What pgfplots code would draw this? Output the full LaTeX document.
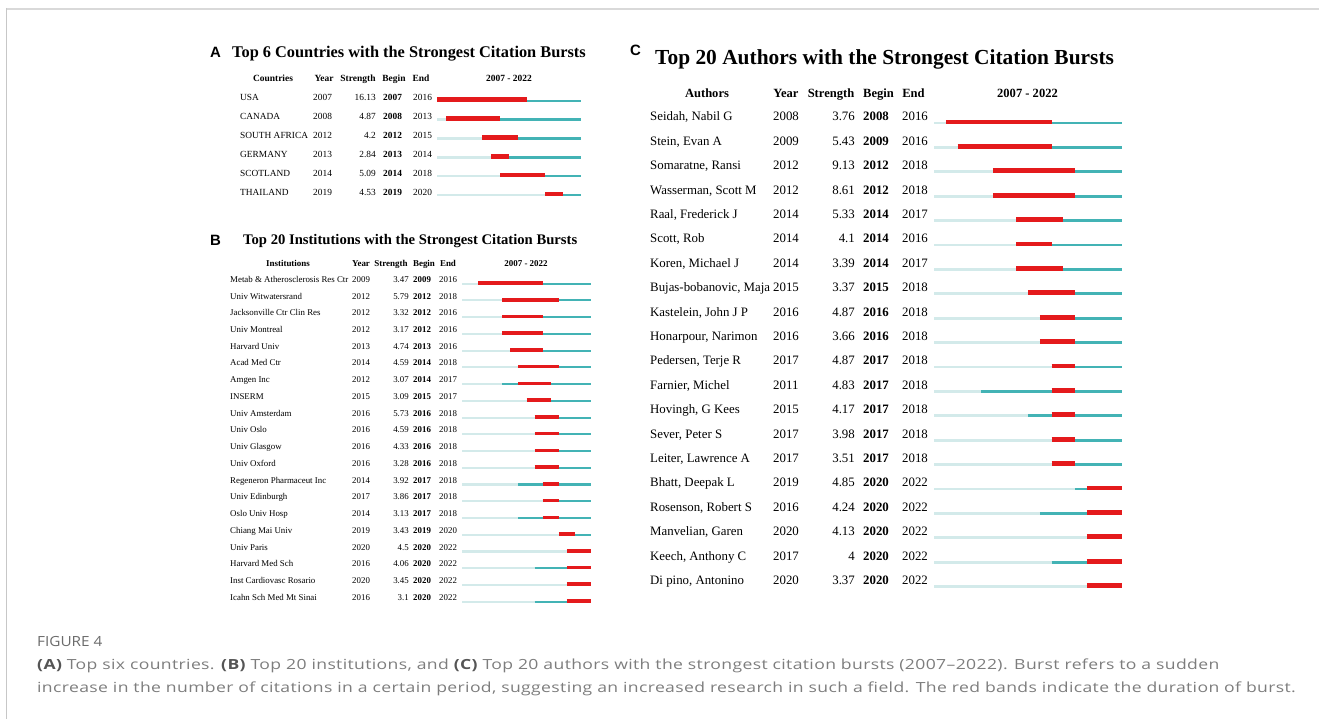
\documentclass[border=0pt]{standalone}
\usepackage{pgfplots}
\pgfplotsset{compat=1.18}
\usepackage{pgfplotstable}
\usepackage{fontspec}
\setmainfont{Liberation Serif}
\newfontfamily\lsans{Liberation Sans}
\newfontfamily\capfont[FakeStretch=1.26, LetterSpace=2.6]{Open Sans}
\newfontfamily\figfont[FakeStretch=1.1]{Open Sans}
\definecolor{bred}{RGB}{228,26,28}
\definecolor{bteal}{RGB}{67,179,181}
\definecolor{bpale}{RGB}{211,234,234}
\definecolor{capgray}{RGB}{125,125,125}
\definecolor{capdark}{RGB}{85,85,85}

\pgfplotstableread[col sep=semicolon,row sep=\\]{
row;name;year;strength;begin;end\\
1;USA;2007;16.13;2007;2016\\
2;CANADA;2008;4.87;2008;2013\\
3;SOUTH AFRICA;2012;4.2;2012;2015\\
4;GERMANY;2013;2.84;2013;2014\\
5;SCOTLAND;2014;5.09;2014;2018\\
6;THAILAND;2019;4.53;2019;2020\\
}\tabA

\pgfplotstableread[col sep=semicolon,row sep=\\]{
row;name;year;strength;begin;end\\
1;Metab \& Atherosclerosis Res Ctr;2009;3.47;2009;2016\\
2;Univ Witwatersrand;2012;5.79;2012;2018\\
3;Jacksonville Ctr Clin Res;2012;3.32;2012;2016\\
4;Univ Montreal;2012;3.17;2012;2016\\
5;Harvard Univ;2013;4.74;2013;2016\\
6;Acad Med Ctr;2014;4.59;2014;2018\\
7;Amgen Inc;2012;3.07;2014;2017\\
8;INSERM;2015;3.09;2015;2017\\
9;Univ Amsterdam;2016;5.73;2016;2018\\
10;Univ Oslo;2016;4.59;2016;2018\\
11;Univ Glasgow;2016;4.33;2016;2018\\
12;Univ Oxford;2016;3.28;2016;2018\\
13;Regeneron Pharmaceut Inc;2014;3.92;2017;2018\\
14;Univ Edinburgh;2017;3.86;2017;2018\\
15;Oslo Univ Hosp;2014;3.13;2017;2018\\
16;Chiang Mai Univ;2019;3.43;2019;2020\\
17;Univ Paris;2020;4.5;2020;2022\\
18;Harvard Med Sch;2016;4.06;2020;2022\\
19;Inst Cardiovasc Rosario;2020;3.45;2020;2022\\
20;Icahn Sch Med Mt Sinai;2016;3.1;2020;2022\\
}\tabB

\pgfplotstableread[col sep=semicolon,row sep=\\]{
row;name;year;strength;begin;end\\
1;Seidah, Nabil G;2008;3.76;2008;2016\\
2;Stein, Evan A;2009;5.43;2009;2016\\
3;Somaratne, Ransi;2012;9.13;2012;2018\\
4;Wasserman, Scott M;2012;8.61;2012;2018\\
5;Raal, Frederick J;2014;5.33;2014;2017\\
6;Scott, Rob;2014;4.1;2014;2016\\
7;Koren, Michael J;2014;3.39;2014;2017\\
8;Bujas-bobanovic, Maja;2015;3.37;2015;2018\\
9;Kastelein, John J P;2016;4.87;2016;2018\\
10;Honarpour, Narimon;2016;3.66;2016;2018\\
11;Pedersen, Terje R;2017;4.87;2017;2018\\
12;Farnier, Michel;2011;4.83;2017;2018\\
13;Hovingh, G Kees;2015;4.17;2017;2018\\
14;Sever, Peter S;2017;3.98;2017;2018\\
15;Leiter, Lawrence A;2017;3.51;2017;2018\\
16;Bhatt, Deepak L;2019;4.85;2020;2022\\
17;Rosenson, Robert S;2016;4.24;2020;2022\\
18;Manvelian, Garen;2020;4.13;2020;2022\\
19;Keech, Anthony C;2017;4;2020;2022\\
20;Di pino, Antonino;2020;3.37;2020;2022\\
}\tabC

\pgfplotsset{burst/.style={scale only axis, axis lines=none, clip=false,
  y dir=reverse, xmin=2007, xmax=2023, ymin=0.5, anchor=north west}}

% text column from a table: #1 table, #2 column, #3 xshift, #4 anchor, #5 font, #6 yshift
\newcommand{\coltext}[6]{%
  \addplot[draw=none, mark=none, forget plot, nodes near coords,
    point meta=explicit symbolic,
    every node near coord/.append style={anchor=#4, xshift=#3, yshift=#6,
      font=#5, text=black, inner sep=0pt}]
    table[x expr=2007, y=row, meta=#2] {#1};}

% burst bars: #1 table, #2 thin width, #3 red width, #4 red shift
\newcommand{\bursts}[4]{%
  \addplot[draw=none, mark=none, forget plot, error bars/.cd, x dir=plus, x explicit,
    error mark=none, error bar style={draw=bpale, line width=#2}]
    table[x expr=2007, y=row, x error expr=\thisrow{year}-2007] {#1};
  \addplot[draw=none, mark=none, forget plot, error bars/.cd, x dir=plus, x explicit,
    error mark=none, error bar style={draw=bteal, line width=#2}]
    table[x=year, y=row, x error expr=2023-\thisrow{year}] {#1};
  \addplot[draw=none, mark=none, forget plot, error bars/.cd, x dir=plus, x explicit,
    error mark=none, error bar style={draw=bred, line width=#3, yshift=#4}]
    table[x=begin, y=row, x error expr=\thisrow{end}+1-\thisrow{begin}] {#1};}

\begin{document}
\begin{tikzpicture}[x=1bp,y=1bp]
\path[use as bounding box] (0,0) rectangle (1319,719);
% frame
\draw[color=black!15, line width=2bp] (6,710) -- (1319,710);
\draw[color=black!22, line width=1bp] (6.5,711) -- (6.5,0);

% ---------- titles ----------
\node[anchor=base west, inner sep=0pt, font=\lsans\bfseries\fontsize{15}{15}\selectfont] at (210,661.7) {A};
\node[anchor=base west, inner sep=0pt, font=\bfseries\fontsize{16.4}{18}\selectfont] at (232,661.7) {Top 6 Countries with the Strongest Citation Bursts};
\node[anchor=base west, inner sep=0pt, font=\lsans\bfseries\fontsize{15}{15}\selectfont] at (210,473.5) {B};
\node[anchor=base west, inner sep=0pt, font=\bfseries\fontsize{14.7}{16}\selectfont] at (243,474.5) {Top 20 Institutions with the Strongest Citation Bursts};
\node[anchor=base west, inner sep=0pt, font=\lsans\bfseries\fontsize{15}{15}\selectfont] at (630,663.3) {C};
\node[anchor=base west, inner sep=0pt, font=\bfseries\fontsize{21.5}{23}\selectfont] at (655,654.7) {Top 20 Authors with the Strongest Citation Bursts};

% ---------- headers ----------
\begin{scope}[every node/.style={anchor=base, inner sep=0pt, font=\bfseries\fontsize{9.5}{10}\selectfont}]
\node at (273,637.5) {Countries};
\node at (324,637.5) {Year};
\node at (358,637.5) {Strength};
\node at (394,637.5) {Begin};
\node at (421,637.5) {End};
\node at (509,637.5) {2007 - 2022};
\end{scope}
\begin{scope}[every node/.style={anchor=base, inner sep=0pt, font=\bfseries\fontsize{9}{10}\selectfont}]
\node at (288,452.7) {Institutions};
\node at (361,452.7) {Year};
\node at (391,452.7) {Strength};
\node at (424,452.7) {Begin};
\node at (448,452.7) {End};
\node at (526,452.7) {2007 - 2022};
\end{scope}
\begin{scope}[every node/.style={anchor=base, inner sep=0pt, font=\bfseries\fontsize{12.6}{14}\selectfont}]
\node at (707,621.7) {Authors};
\node at (786,621.7) {Year};
\node at (831,621.7) {Strength};
\node at (878.5,621.7) {Begin};
\node at (913.5,621.7) {End};
\node at (1027.5,621.7) {2007 - 2022};
\end{scope}

% ---------- panel A ----------
\begin{axis}[burst, at={(437bp,627.7bp)}, width=144bp, height=113.2bp, ymax=6.5]
\bursts{\tabA}{2.4bp}{4.5bp}{1bp}
\coltext{\tabA}{name}{-197bp}{base west}{\fontsize{9.4}{10}\selectfont}{0bp}
\coltext{\tabA}{year}{-124bp}{base west}{\fontsize{9.4}{10}\selectfont}{0bp}
\coltext{\tabA}{strength}{-61bp}{base east}{\fontsize{9.4}{10}\selectfont}{0bp}
\coltext{\tabA}{begin}{-54bp}{base west}{\bfseries\fontsize{9.4}{10}\selectfont}{0bp}
\coltext{\tabA}{end}{-24bp}{base west}{\fontsize{9.4}{10}\selectfont}{0bp}
\end{axis}

% ---------- panel B ----------
\begin{axis}[burst, at={(462bp,443.7bp)}, width=129bp, height=334.8bp, ymax=20.5]
\bursts{\tabB}{2.1bp}{3.6bp}{0.7bp}
\coltext{\tabB}{name}{-232bp}{base west}{\fontsize{8.9}{10}\selectfont}{1.4bp}
\coltext{\tabB}{year}{-110bp}{base west}{\fontsize{8.9}{10}\selectfont}{1.4bp}
\coltext{\tabB}{strength}{-53bp}{base east}{\fontsize{8.9}{10}\selectfont}{1.4bp}
\coltext{\tabB}{begin}{-49bp}{base west}{\bfseries\fontsize{8.9}{10}\selectfont}{1.4bp}
\coltext{\tabB}{end}{-23bp}{base west}{\fontsize{8.9}{10}\selectfont}{1.4bp}
\end{axis}

% ---------- panel C ----------
\begin{axis}[burst, at={(934bp,608.2bp)}, width=188bp, height=488bp, ymax=20.5]
\bursts{\tabC}{2.7bp}{4.7bp}{1bp}
\coltext{\tabC}{name}{-284bp}{base west}{\fontsize{12.9}{14}\selectfont}{2bp}
\coltext{\tabC}{year}{-161bp}{base west}{\fontsize{12.9}{14}\selectfont}{2bp}
\coltext{\tabC}{strength}{-79bp}{base east}{\fontsize{12.9}{14}\selectfont}{2bp}
\coltext{\tabC}{begin}{-71bp}{base west}{\bfseries\fontsize{12.9}{14}\selectfont}{2bp}
\coltext{\tabC}{end}{-32bp}{base west}{\fontsize{12.9}{14}\selectfont}{2bp}
\end{axis}

% ---------- caption ----------
\node[anchor=base west, inner sep=0pt, text=black!58, font=\figfont\fontsize{14}{16}\selectfont] at (37,72) {FIGURE 4};
\node[anchor=base west, inner sep=0pt, text=capgray, font=\capfont\fontsize{14}{16}\selectfont] at (37,50)
 {{\color{capdark}\bfseries(A)} Top six countries. {\color{capdark}\bfseries(B)} Top 20 institutions, and {\color{capdark}\bfseries(C)} Top 20 authors with the strongest citation bursts (2007–2022). Burst refers to a sudden};
\node[anchor=base west, inner sep=0pt, text=capgray, font=\capfont\fontsize{14}{16}\selectfont] at (37,27)
 {increase in the number of citations in a certain period, suggesting an increased research in such a field. The red bands indicate the duration of burst.};
\end{tikzpicture}
\end{document}
